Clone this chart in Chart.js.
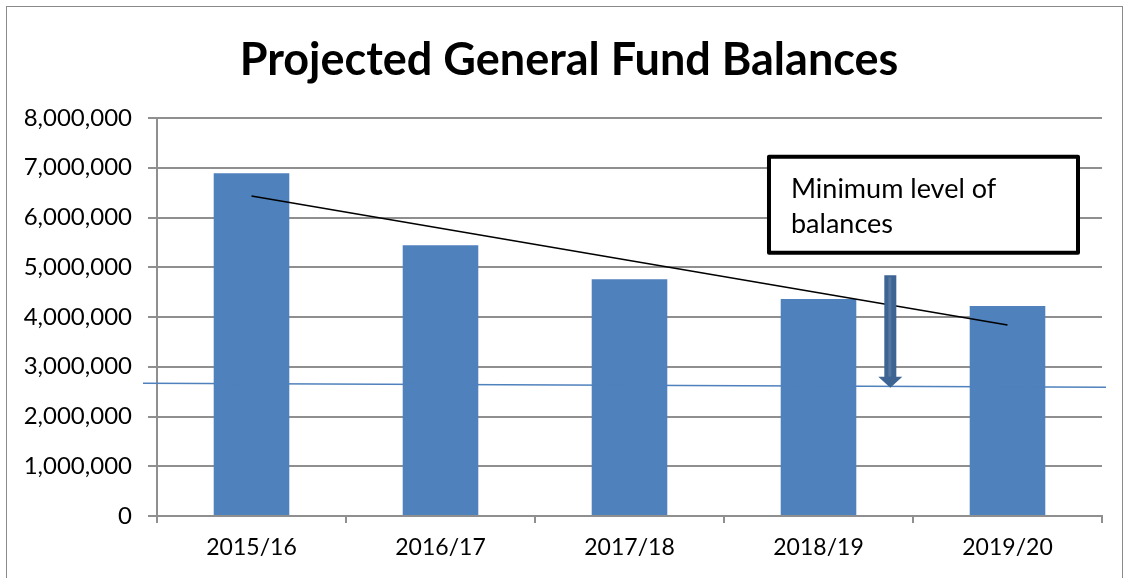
<!DOCTYPE html>
<html>
<head>
<meta charset="utf-8">
<script src="https://cdn.jsdelivr.net/npm/chart.js@4/dist/chart.umd.min.js"></script>
<style>
html,body{margin:0;padding:0;background:#fff;}
#wrap{width:1131px;height:578px;position:relative;}
</style>
</head>
<body>
<div id="wrap"><canvas id="c" width="1131" height="578"></canvas></div>
<script>
const categories = ['2015/16', '2016/17', '2017/18', '2018/19', '2019/20'];
const balances = [6890000, 5440000, 4760000, 4360000, 4220000];
const trendLine = [6430000, null, null, null, 3840000];
const minLevelStart = 2670000;
const minLevelEnd = 2590000;
const arrowIndex = 3.38;
const arrowTop = 4840000;
const arrowTip = 2580000;
const noteLines = ['Minimum level of', 'balances'];
const noteBox = { x0: 2.738, x1: 4.373, yTop: 7220000, yBottom: 5290000 };
const yTicks = { min: 0, max: 8000000, step: 1000000 };
const titleText = 'Projected General Fund Balances';

const FONT = 'Lato';

const annotations = {
  id: 'annotations',
  beforeDraw(chart) {
    const ctx = chart.ctx;
    ctx.save();
    ctx.fillStyle = '#fff';
    ctx.fillRect(0, 0, chart.width, chart.height);
    ctx.strokeStyle = '#8a8a8a';
    ctx.lineWidth = 1;
    ctx.strokeRect(6.5, 6.5, 1116, 600);
    ctx.restore();
  },
  afterDatasetsDraw(chart) {
    const ctx = chart.ctx;
    const x = chart.scales.x, y = chart.scales.y;
    const ca = chart.chartArea;
    ctx.save();
    // minimum level line
    ctx.strokeStyle = '#4F81BD';
    ctx.lineWidth = 1.5;
    ctx.beginPath();
    ctx.moveTo(ca.left - 14, y.getPixelForValue(minLevelStart));
    ctx.lineTo(ca.right + 4, y.getPixelForValue(minLevelEnd));
    ctx.stroke();
    // arrow
    const ax = x.getPixelForValue(arrowIndex);
    const aTop = y.getPixelForValue(arrowTop);
    const aTip = y.getPixelForValue(arrowTip);
    const shaftW = 12, headW = 24, headH = 11;
    ctx.fillStyle = '#3D6493';
    ctx.beginPath();
    ctx.moveTo(ax - shaftW / 2, aTop);
    ctx.lineTo(ax + shaftW / 2, aTop);
    ctx.lineTo(ax + shaftW / 2, aTip - headH);
    ctx.lineTo(ax + headW / 2, aTip - headH);
    ctx.lineTo(ax, aTip);
    ctx.lineTo(ax - headW / 2, aTip - headH);
    ctx.lineTo(ax - shaftW / 2, aTip - headH);
    ctx.closePath();
    ctx.fill();
    ctx.fillStyle = 'rgba(255,255,255,0.12)';
    ctx.fillRect(ax - 2, aTop + 2, 3, aTip - headH - aTop - 2);
    // note box
    const bx0 = x.getPixelForValue(noteBox.x0), bx1 = x.getPixelForValue(noteBox.x1);
    const by0 = y.getPixelForValue(noteBox.yTop), by1 = y.getPixelForValue(noteBox.yBottom);
    ctx.fillStyle = '#fff';
    ctx.fillRect(bx0, by0, bx1 - bx0, by1 - by0);
    ctx.strokeStyle = '#000';
    ctx.lineWidth = 4;
    ctx.lineJoin = 'round';
    ctx.strokeRect(bx0, by0, bx1 - bx0, by1 - by0);
    ctx.fillStyle = '#000';
    ctx.font = '27px ' + FONT;
    ctx.textBaseline = 'alphabetic';
    ctx.textAlign = 'left';
    noteLines.forEach((t, i) => ctx.fillText(t, bx0 + 22, by0 + 41 + i * 35));
    ctx.restore();
  }
};

new Chart(document.getElementById('c'), {
  type: 'bar',
  data: {
    labels: categories,
    datasets: [
      {
        type: 'line',
        data: trendLine,
        borderColor: '#000',
        borderWidth: 1.5,
        pointRadius: 0,
        spanGaps: true,
        order: 0
      },
      {
        type: 'bar',
        data: balances,
        backgroundColor: '#4F81BD',
        borderWidth: 0,
        barPercentage: 0.4,
        categoryPercentage: 1,
        order: 1
      }
    ]
  },
  plugins: [annotations],
  options: {
    responsive: false,
    animation: false,
    layout: { padding: { left: 7, right: 0, top: 0, bottom: 0 } },
    plugins: {
      legend: { display: false },
      tooltip: { enabled: false },
      title: {
        display: true,
        text: titleText,
        color: '#000',
        font: { family: FONT, size: 45, weight: 'bold', lineHeight: 1.2 },
        padding: { top: 33, bottom: 31 }
      }
    },
    scales: {
      x: {
        offset: true,
        grid: { offset: true, drawOnChartArea: false, drawTicks: true, tickLength: 7, color: '#8f8f8f', lineWidth: 2 },
        border: { display: true, color: '#8f8f8f', width: 2 },
        ticks: { color: '#000', font: { family: FONT, size: 23 }, padding: 11, maxRotation: 0 },
        afterFit(s) { s.height = 62; }
      },
      y: {
        min: yTicks.min,
        max: yTicks.max,
        grid: { color: '#8f8f8f', lineWidth: 2, tickLength: 9 },
        border: { display: true, color: '#8f8f8f', width: 2 },
        ticks: {
          stepSize: yTicks.step,
          color: '#000',
          font: { family: FONT, size: 24 },
          padding: 16,
          callback: v => v.toLocaleString('en-US')
        },
        afterFit(s) { s.width = 150; }
      },
      yRight: {
        position: 'right',
        min: yTicks.min,
        max: yTicks.max,
        grid: { display: false, drawOnChartArea: false },
        border: { display: false },
        ticks: { display: false },
        afterFit(s) { s.width = 29; }
      }
    }
  }
});
</script>
</body>
</html>
